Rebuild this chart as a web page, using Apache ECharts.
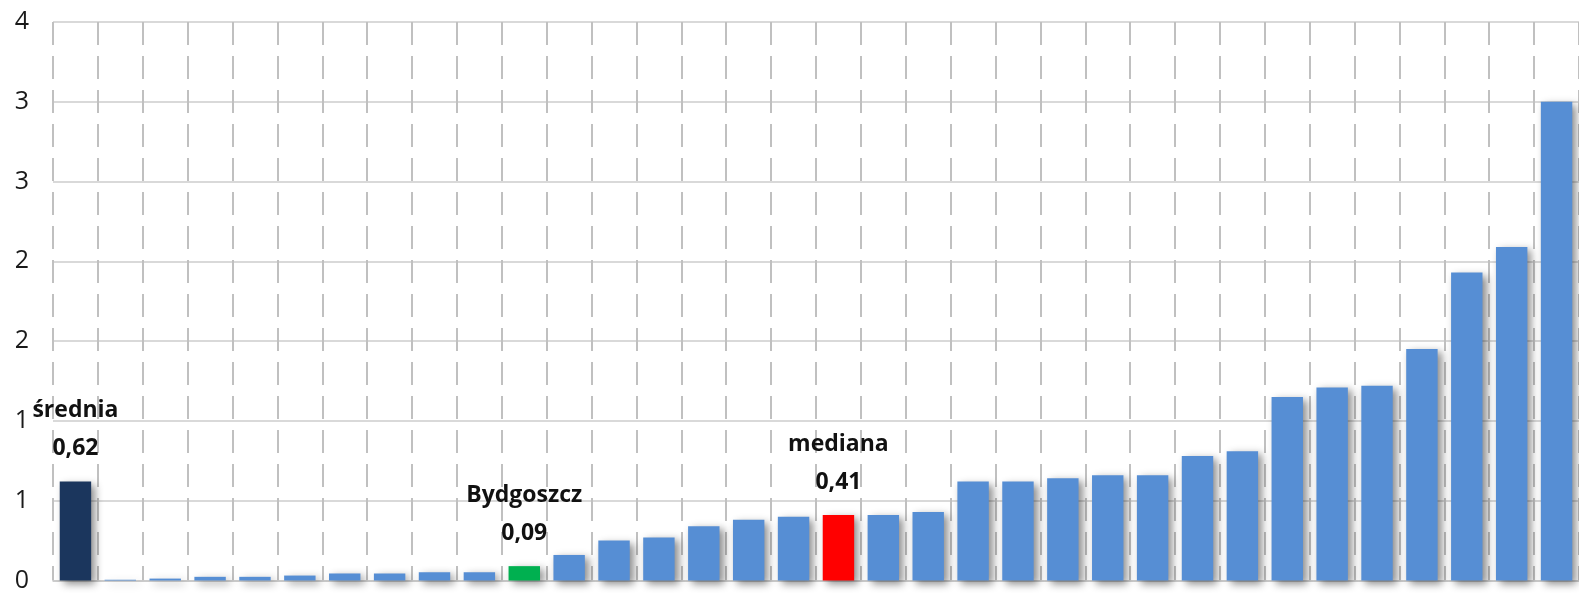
<!DOCTYPE html>
<html>
<head>
<meta charset="utf-8">
<script src="https://cdn.jsdelivr.net/npm/echarts@6/dist/echarts.min.js"></script>
<style>
html,body{margin:0;padding:0;background:#fff;}
#chart{width:1579px;height:593px;}
</style>
</head>
<body>
<div id="chart"></div>
<script>
var categories = ['średnia','c01','c02','c03','c04','c05','c06','c07','c08','c09','Bydgoszcz','c11','c12','c13','c14','c15','c16','mediana','c18','c19','c20','c21','c22','c23','c24','c25','c26','c27','c28','c29','c30','c31','c32','c33'];
var values = [0.62,0.005,0.012,0.023,0.023,0.031,0.044,0.044,0.052,0.052,0.09,0.16,0.25,0.27,0.34,0.38,0.40,0.41,0.41,0.43,0.62,0.62,0.64,0.66,0.66,0.78,0.81,1.15,1.21,1.22,1.45,1.93,2.09,3.0];
var yTickLabels = ['0','1','1','2','2','3','3','4'];
var highlightNames = ['średnia','Bydgoszcz','mediana'];
var highlightColors = ['#1b365d','#00b050','#ff0000'];
var baseColor = '#568ed4';

var data = values.map(function(v, i){
  var h = highlightNames.indexOf(categories[i]);
  var item = {value: v};
  if (h >= 0) {
    item.itemStyle = {color: highlightColors[h]};
    item.label = {
      show: true,
      position: 'top',
      distance: 14,
      formatter: '{n|' + categories[i] + '}\n{n|' + v.toFixed(2).replace('.', ',') + '}',
      rich: {n: {fontFamily: 'Open Sans', fontWeight: 'bold', fontSize: 23, color: '#111', lineHeight: 38}}
    };
  }
  return item;
});

var chart = echarts.init(document.getElementById('chart'));
chart.setOption({
  animation: false,
  backgroundColor: '#ffffff',
  grid: {left: 53, top: 22, bottom: 11, width: 1530},
  xAxis: {
    type: 'category',
    data: categories,
    axisLine: {show: true, lineStyle: {color: '#c8c8c8', width: 1.5}},
    axisTick: {show: false},
    axisLabel: {show: false, interval: 0},
    splitLine: {show: true, interval: 0, lineStyle: {color: '#c0c0c0', width: 2, type: [23, 11]}}
  },
  yAxis: {
    type: 'value',
    min: 0, max: 3.5, interval: 0.5,
    axisLine: {show: false},
    axisTick: {show: false},
    axisLabel: {
      margin: 24,
      fontFamily: 'Open Sans',
      fontSize: 25,
      color: '#1a1a1a',
      formatter: function(v){ return yTickLabels[Math.round(v / 0.5)]; }
    },
    splitLine: {show: true, lineStyle: {color: '#cccccc', width: 1.5}}
  },
  series: [{
    type: 'bar',
    data: data,
    barCategoryGap: '30%',
    itemStyle: {
      color: baseColor,
      shadowBlur: 8,
      shadowOffsetX: 4,
      shadowOffsetY: 3,
      shadowColor: 'rgba(0,0,0,0.45)'
    }
  }]
});
</script>
</body>
</html>
